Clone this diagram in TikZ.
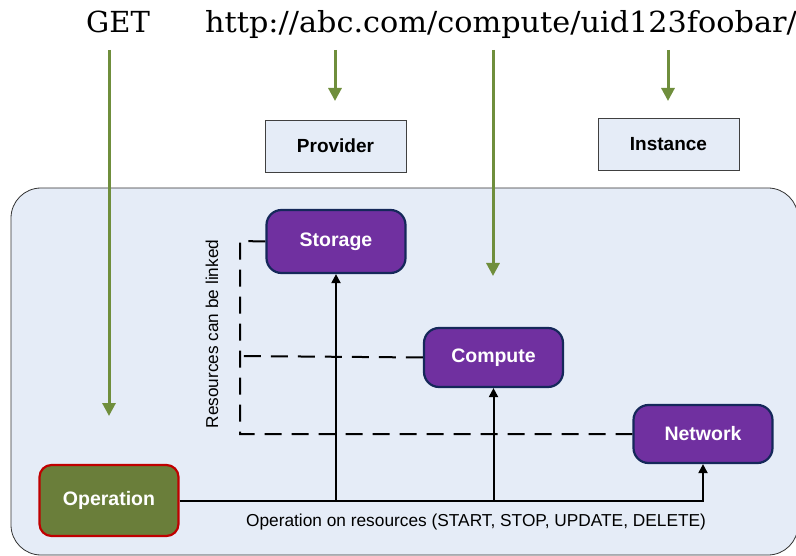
\documentclass[tikz,border=0pt]{standalone}
\usepackage{fontspec}
\setsansfont{Liberation Sans}
\newfontfamily\urlfont{DejaVu Serif}
\usetikzlibrary{arrows.meta}

\definecolor{panelblue}{HTML}{E5ECF7}
\definecolor{resviolet}{HTML}{7030A0}
\definecolor{resborder}{HTML}{15285A}
\definecolor{opgreen}{HTML}{6A7E3A}
\definecolor{opred}{HTML}{C00000}
\definecolor{urlgreen}{HTML}{6F8E3C}

\begin{document}
\begin{tikzpicture}[x=1pt, y=-1pt,
    urltext/.style={font=\urlfont\fontsize{29}{32}\selectfont, inner sep=0pt},
    urlarrow/.style={urlgreen, line width=3pt, -{Triangle[width=13pt,length=13pt]}},
    partbox/.style={draw=black!75, line width=0.8pt, fill=panelblue, minimum width=141pt, minimum height=52pt, font=\sffamily\bfseries\fontsize{19}{22}\selectfont},
    resource/.style={draw=resborder, line width=2.2pt, fill=resviolet, rounded corners=15pt, minimum width=139pt, text=white, font=\sffamily\bfseries\fontsize{19.5}{22}\selectfont},
    operation/.style={resource, draw=opred, fill=opgreen, rounded corners=12pt},
    link/.style={line width=2pt, -{Triangle[width=9pt,length=9pt]}},
    linkdash/.style={line width=2pt, dash pattern=on 17pt off 10pt}]
        \useasboundingbox (0,0) rectangle (796,556);
        % Panel behind the resources
        \draw[black!80, line width=0.8pt, fill=panelblue, rounded corners=30pt] (11,188) rectangle (798,555);

        % Nodes (request, parts of the URL, resources)
        \node[urltext, anchor=base west] (get) at (86,33) {GET};
        \node[urltext, anchor=base west, xscale=1.045] (url) at (205,33) {http://abc.com/compute/uid123foobar/};
        \node[partbox] (provider) at (335.5,146) {Provider};
        \node[partbox] (instance) at (668.5,144.5) {Instance};
        \node[resource, minimum height=63pt] (storage) at (336,241.5) {Storage};
        \node[resource, minimum height=59pt] (compute) at (493.5,357.5) {Compute};
        \node[resource, minimum height=58pt] (network) at (703,434) {Network};
        \node[operation, minimum height=71pt] (operation) at (109,500.5) {Operation};
        \node[rotate=90, font=\sffamily\fontsize{17.2}{20}\selectfont] (linked) at (212,334) {Resources can be linked};
        \node[font=\sffamily\fontsize{17.3}{20}\selectfont] (oplabel) at (476,522) {Operation on resources (START, STOP, UPDATE, DELETE)};

        % Points for the URL arrows
        \coordinate (gettop) at (109,50);
        \coordinate (getend) at (109,416);
        \coordinate (provtop) at (335,50);
        \coordinate (provend) at (335,101);
        \coordinate (comptop) at (493,50);
        \coordinate (compend) at (493,276);
        \coordinate (insttop) at (668,50);
        \coordinate (instend) at (668,101);
        % Points for the links
        \coordinate (linktop) at (240,241);
        \coordinate (linkmid) at (240,356);
        \coordinate (linkbot) at (240,434);
        \coordinate (opstore) at (storage.south |- operation.east);
        \coordinate (opcomp) at (compute.south |- operation.east);

        % Edges (URL parts)
        \draw[urlarrow] (gettop) -- (getend);
        \draw[urlarrow] (provtop) -- (provend);
        \draw[urlarrow] (comptop) -- (compend);
        \draw[urlarrow] (insttop) -- (instend);

        % Edges (resources can be linked)
        \draw[linkdash] (storage.west) -- (linktop) -- (linkbot) -- (network.west);
        \draw[linkdash] (compute.west) -- (linkmid);

        % Edges (operation on resources)
        \draw[link] (operation.east) -| (network.south);
        \draw[link] (opstore) -- (storage.south);
        \draw[link] (opcomp) -- (compute.south);
\end{tikzpicture}
\end{document}
